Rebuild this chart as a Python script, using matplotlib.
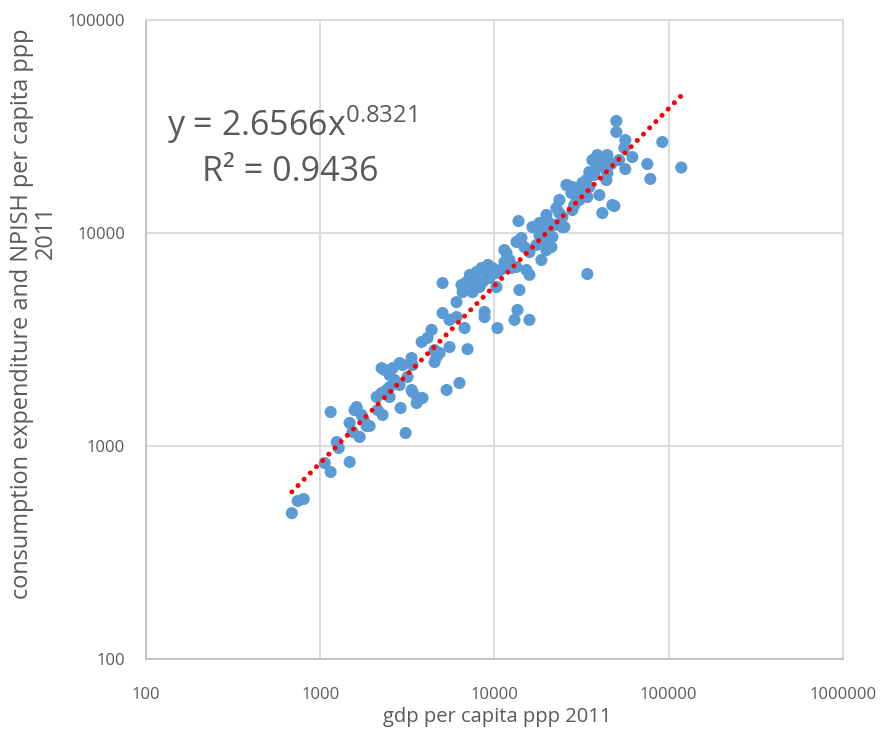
import numpy as np
import matplotlib
matplotlib.use("Agg")
import matplotlib.pyplot as plt
from matplotlib.ticker import FixedLocator, FixedFormatter, NullLocator

plt.rcParams['font.family'] = ['Open Sans', 'DejaVu Sans']
plt.rcParams['mathtext.fontset'] = 'custom'
plt.rcParams['mathtext.rm'] = 'Open Sans'
plt.rcParams['mathtext.default'] = 'regular'

# gdp per capita (ppp, 2011) per country
gdp = [
    687, 743, 804, 1062, 1148, 1148, 1244, 1277, 1475, 1475,
    1535, 1683, 1847, 1921, 1618, 1575, 1729, 2281, 2107, 2251,
    2404, 2501, 2742, 2893, 3090, 3388, 3622, 3866, 3574, 5309,
    6297, 2136, 2501, 5036, 2251, 2342, 2501, 2602, 2855, 2972,
    3343, 3388, 3171, 2855, 3343, 3820, 4131, 4355, 4530, 4653,
    4530, 4842, 5521, 7005, 5036, 5521, 6053, 6733, 6053, 8770,
    8770, 10400, 6561, 6918, 6466, 7482, 7889, 8433, 8995, 9747,
    10260, 9354, 8538, 8204, 10260, 11720, 12190, 13370, 15870, 13910,
    13550, 13030, 15870, 18590, 19860, 13740, 34120, 26200, 27970, 29900,
    31920, 35010, 27620, 29500, 39990, 47460, 41590, 43850, 16510, 18110,
    19860, 22650, 23580, 20660, 24540, 21500, 21220, 13370, 14280, 14860,
    15870, 17400, 11400, 12510, 15260, 50030, 50030, 91840, 118000, 75350,
    78380, 56340, 55610, 61820, 56340, 36450, 38940, 41590, 44430, 38440,
    41590, 35010, 37410, 44430, 33650, 31920, 25870, 34120, 48750, 27970,
    25180, 19860, 24540, 7230, 7680, 9170, 10820, 11400, 19300, 18110,
    22080, 30700, 32800, 23580, 1780, 2670, 28700, 19300, 51900, 46800,
]

# household + NPISH consumption expenditure per capita (ppp, 2011)
consumption = [
    484, 552, 564, 832, 755, 1444, 1044, 979, 841, 1283,
    1164, 1103, 1242, 1242, 1524, 1475, 1399, 1399, 1699, 1774,
    1832, 1891, 1977, 1508, 1151, 1793, 1680, 1680, 1592, 1832,
    1977, 1475, 1699, 5823, 2320, 2275, 2155, 2320, 2450, 2400,
    2590, 2400, 2110, 1933, 1832, 3080, 3220, 3510, 2820, 2620,
    2480, 2733, 2915, 2850, 4211, 3910, 4030, 3580, 4740, 4260,
    4030, 3580, 5280, 5890, 5700, 5280, 6560, 6850, 6560, 6850,
    6500, 6150, 5890, 5580, 5580, 8060, 7470, 6920, 6360, 5400,
    4350, 3910, 3910, 7470, 8320, 11380, 6420, 16800, 16440, 15920,
    16800, 16440, 15420, 14760, 15080, 13530, 12410, 17740, 10670, 11140,
    12150, 13100, 12410, 11140, 10670, 9577, 8590, 9080, 9480, 8590,
    8140, 8790, 8320, 6850, 6700, 33570, 29800, 26750, 20300, 21090,
    17940, 27330, 25060, 22730, 19960, 22010, 23240, 22730, 23240, 20420,
    20420, 19320, 18720, 19120, 17740, 17180, 16800, 14760, 13390, 12820,
    10670, 10330, 11890, 6360, 5890, 7080, 6700, 7310, 9270, 9790,
    10910, 14290, 15600, 14290, 1325, 2040, 13530, 10910, 22010, 21090,
]

# power trendline y = a * x^b
fit_a = 2.6566
fit_b = 0.8321
fit_r2 = 0.9436

decades = [100, 1000, 10000, 100000, 1000000]
x_tick_labels = ["100", "1000", "10000", "100000", "1000000"]
y_ticks = [100, 1000, 10000, 100000]
y_tick_labels = ["100", "1000", "10000", "100000"]

grey_text = "#595959"
grid_color = "#D9D9D9"
blue = "#5B9BD5"

fig = plt.figure(figsize=(8.83, 7.36), dpi=100)
ax = fig.add_axes([0.1653, 0.1046, 0.7894, 0.8682])

ax.scatter(gdp, consumption, s=76, color=blue, edgecolors="none", zorder=3)

trend_x = np.geomspace(min(gdp), max(gdp), 200)
trend_y = fit_a * trend_x ** fit_b
ax.plot(trend_x, trend_y, color="#FF0000", lw=3.6,
        linestyle=(0, (0.01, 1.75)), dash_capstyle="round", zorder=4)

ax.set_xscale("log")
ax.set_yscale("log")
ax.set_xlim(100, 1000000)
ax.set_ylim(100, 100000)

ax.xaxis.set_major_locator(FixedLocator(decades))
ax.xaxis.set_major_formatter(FixedFormatter(x_tick_labels))
ax.yaxis.set_major_locator(FixedLocator(y_ticks))
ax.yaxis.set_major_formatter(FixedFormatter(y_tick_labels))
ax.xaxis.set_minor_locator(NullLocator())
ax.yaxis.set_minor_locator(NullLocator())

ax.grid(True, color=grid_color, lw=1.3, zorder=0)
for side in ax.spines.values():
    side.set_color(grid_color)
    side.set_linewidth(1.3)
ax.spines["left"].set_color("#BFBFBF")
ax.spines["bottom"].set_color("#BFBFBF")

ax.tick_params(axis="both", length=0, colors=grey_text, labelsize=12)
ax.tick_params(axis="x", pad=20)
ax.tick_params(axis="y", pad=15)

# axis titles placed by hand (the y title wraps onto a second, offset line)
fig.text(497 / 883, 1 - 717 / 736, "gdp per capita ppp 2011",
         ha="center", va="center", fontsize=14.5, color=grey_text)
fig.text(22 / 883, 1 - 314 / 736, "consumption expenditure and NPISH per capita ppp",
         rotation=90, ha="center", va="center", fontsize=16.9, color=grey_text)
fig.text(46 / 883, 1 - 232 / 736, "2011",
         rotation=90, ha="center", va="center", fontsize=16.9, color=grey_text)

ax.text(0.2088, 0.836, f"y = {fit_a:.4f}x$^{{{fit_b:.4f}}}$", transform=ax.transAxes,
        ha="center", va="center", fontsize=24.5, color=grey_text)
ax.text(0.2065, 0.762, f"R² = {fit_r2:.4f}", transform=ax.transAxes,
        ha="center", va="center", fontsize=24.5, color=grey_text)

fig.savefig("out.png", dpi=100, facecolor="white")
